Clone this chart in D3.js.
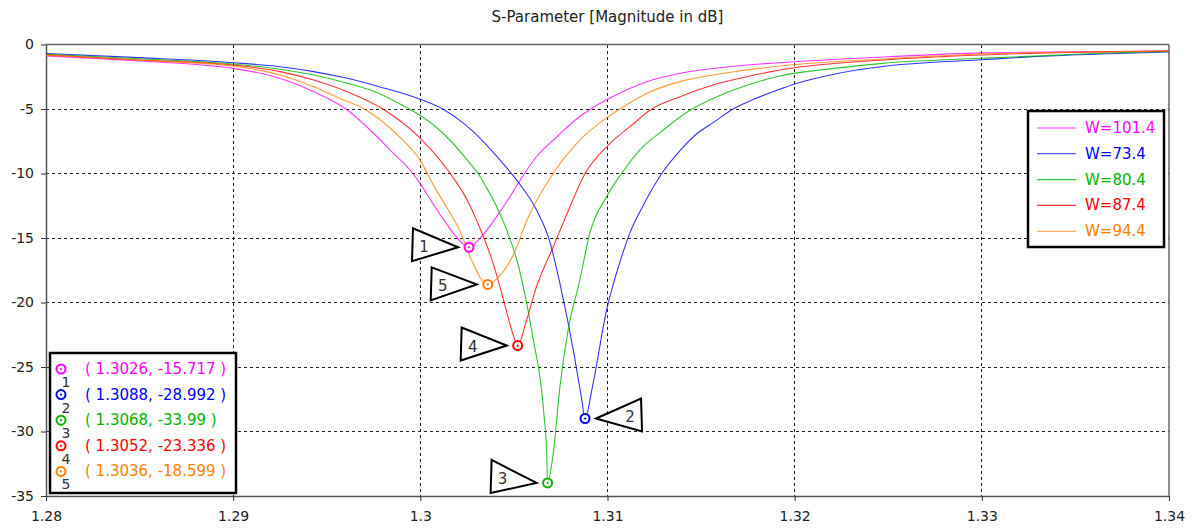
<!DOCTYPE html>
<html>
<head>
<meta charset="utf-8">
<script src="https://cdn.jsdelivr.net/npm/d3@7"></script>
<style>
  body { margin: 0; background: #fff; }
  text { font-family: "DejaVu Sans", Tahoma, sans-serif; }
</style>
</head>
<body>
<div id="graph"></div>
<script>
// series data: [frequency, dB]
var seriesNames = ["W=101.4", "W=73.4", "W=80.4", "W=87.4", "W=94.4"];
var seriesColors = ["#ff00ff", "#0000ff", "#00b400", "#ff0000", "#ff8000"];

var w101 = [[1.28,-0.88],[1.285,-1.28],[1.29,-1.85],[1.2925,-2.62],[1.2943,-3.66],[1.2961,-5.08],[1.2975,-6.88],
  [1.2984,-8.2],[1.2996,-10.0],[1.3,-10.8],[1.3007,-12.4],[1.3014,-13.9],[1.3021,-15.2],[1.3026,-15.717],
  [1.3032,-15.0],[1.304,-13.5],[1.3047,-12.0],[1.3053,-10.6],[1.3062,-8.7],[1.3073,-7.15],[1.3085,-5.6],
  [1.3091,-5.0],[1.31,-4.25],[1.3121,-2.88],[1.3139,-2.23],[1.3165,-1.72],[1.3192,-1.41],[1.325,-0.95],
  [1.33,-0.65],[1.34,-0.5]];
var w73 = [[1.28,-0.7],[1.285,-1.02],[1.29,-1.41],[1.2925,-1.72],[1.2943,-2.1],[1.2961,-2.62],[1.2978,-3.27],
  [1.3,-4.25],[1.3012,-5.0],[1.3023,-6.1],[1.3032,-7.27],[1.3041,-8.7],[1.3053,-10.8],[1.3062,-12.8],
  [1.3069,-15.2],[1.3075,-18.8],[1.3082,-23.9],[1.3086,-27.3],[1.3088,-28.992],[1.3092,-26.5],
  [1.30995,-20.6],[1.3107,-16.7],[1.3112,-14.6],[1.3119,-12.5],[1.3129,-10.0],[1.3139,-8.18],[1.3148,-6.88],
  [1.3157,-6.0],[1.3166,-5.1],[1.3178,-4.25],[1.3192,-3.47],[1.32,-3.06],[1.3221,-2.3],[1.3247,-1.7],
  [1.3274,-1.38],[1.33,-1.18],[1.3327,-0.94],[1.3363,-0.74],[1.34,-0.58]];
var w80 = [[1.28,-0.75],[1.285,-1.1],[1.29,-1.51],[1.2925,-1.92],[1.2943,-2.36],[1.2961,-3.0],[1.2978,-3.79],
  [1.2994,-5.0],[1.3,-5.5],[1.3014,-7.15],[1.3025,-8.95],[1.3032,-10.25],[1.3035,-11.0],[1.3044,-13.6],
  [1.3053,-17.5],[1.306,-22.6],[1.3066,-28.6],[1.30675,-31.7],[1.3068,-33.99],[1.3071,-31.7],[1.30746,-26.5],
  [1.3079,-22.1],[1.3085,-18.4],[1.30906,-14.6],[1.30995,-11.8],[1.31075,-10.0],[1.31172,-8.18],
  [1.31298,-6.63],[1.3144,-5.1],[1.316,-3.95],[1.3178,-3.0],[1.3192,-2.44],[1.3221,-1.85],[1.3247,-1.46],
  [1.33,-1.07],[1.3363,-0.68],[1.34,-0.53]];
var w87 = [[1.28,-0.8],[1.285,-1.2],[1.29,-1.59],[1.2925,-2.1],[1.2943,-2.75],[1.2961,-3.66],[1.298,-5.0],
  [1.3,-7.27],[1.3016,-10.0],[1.3025,-12.05],[1.303,-13.6],[1.3039,-17.0],[1.3045,-20.1],[1.30496,-22.5],
  [1.3052,-23.336],[1.30567,-21.4],[1.3062,-18.8],[1.3071,-15.7],[1.3079,-12.9],[1.3088,-10.0],
  [1.31004,-7.8],[1.3112,-6.37],[1.31236,-5.0],[1.31387,-4.05],[1.31565,-3.14],[1.31743,-2.5],
  [1.31921,-1.98],[1.3247,-1.2],[1.33,-0.81],[1.34,-0.5]];
var w94 = [[1.28,-0.82],[1.285,-1.22],[1.29,-1.67],[1.2925,-2.36],[1.2943,-3.27],[1.2959,-4.3],[1.297,-5.0],
  [1.2987,-6.9],[1.3,-9.0],[1.3007,-10.9],[1.3014,-12.6],[1.3021,-14.4],[1.3027,-16.6],[1.3036,-18.599],
  [1.3042,-18.0],[1.305,-16.2],[1.3057,-13.6],[1.3071,-10.0],[1.30853,-7.4],[1.31004,-5.6],[1.31066,-5.0],
  [1.31209,-3.79],[1.31387,-2.88],[1.31565,-2.36],[1.31921,-1.67],[1.325,-1.1],[1.33,-0.74],[1.34,-0.5]];
var seriesData = [w101, w73, w80, w87, w94];

// markers: id, series index, frequency, dB
var markerIds = [1, 2, 3, 4, 5];
var markerSeries = [0, 1, 2, 3, 4];
var markerX = [1.3026, 1.3088, 1.3068, 1.3052, 1.3036];
var markerY = [-15.717, -28.992, -33.99, -23.336, -18.599];
var markerXText = ["1.3026", "1.3088", "1.3068", "1.3052", "1.3036"];
var markerYText = ["-15.717", "-28.992", "-33.99", "-23.336", "-18.599"];

var xTicks = [1.28, 1.29, 1.3, 1.31, 1.32, 1.33, 1.34];
var yTicks = [0, -5, -10, -15, -20, -25, -30, -35];
var title = "S-Parameter [Magnitude in dB]";

// label placement for the triangle flags (side: -1 left, 1 right; dy shift)
var flagSide = [-1, 1, -1, -1, -1];
var flagDy = [-1, -2, -5, 0, 1];

var W = 1192, H = 529;
var margin = {top: 44.5, right: 23, bottom: 33, left: 46};
var width = W - margin.left - margin.right,
    height = H - margin.top - margin.bottom;

var svg = d3.select("#graph").append("svg")
  .attr("width", W).attr("height", H)
  .style("background", "#fff");

svg.append("text")
  .attr("x", margin.left + width / 2).attr("y", 22)
  .attr("text-anchor", "middle")
  .style("font-size", "15px").attr("fill", "#222")
  .text(title);

var g = svg.append("g").attr("transform", "translate(" + margin.left + "," + margin.top + ")");

var x = d3.scaleLinear().domain([1.28, 1.34]).range([0, width]);
var y = d3.scaleLinear().domain([-35, 0]).range([height, 0]);

// grid
g.append("g").selectAll("line")
  .data(xTicks.slice(1, -1)).enter().append("line")
  .attr("x1", d => x(d)).attr("x2", d => x(d))
  .attr("y1", 0).attr("y2", height)
  .attr("stroke", "#222").attr("stroke-dasharray", "3,3").attr("shape-rendering", "crispEdges");
g.append("g").selectAll("line")
  .data(yTicks.slice(1, -1)).enter().append("line")
  .attr("x1", 0).attr("x2", width)
  .attr("y1", d => y(d)).attr("y2", d => y(d))
  .attr("stroke", "#222").attr("stroke-dasharray", "3,3").attr("shape-rendering", "crispEdges");

// frame
g.append("line").attr("x1", 0).attr("x2", width).attr("y1", 0).attr("y2", 0)
  .attr("stroke", "#666").attr("stroke-width", 1.5);
g.append("line").attr("x1", width).attr("x2", width).attr("y1", 0).attr("y2", height)
  .attr("stroke", "#666").attr("stroke-width", 1.5);

// axes
var xAxis = g.append("g").attr("transform", "translate(0," + height + ")")
  .call(d3.axisBottom(x).tickValues(xTicks).tickFormat(d => String(d)).tickSize(5).tickSizeOuter(0).tickPadding(10));
var yAxis = g.append("g")
  .call(d3.axisLeft(y).tickValues(yTicks).tickFormat(d => String(d)).tickSize(5).tickSizeOuter(0).tickPadding(7));
[xAxis, yAxis].forEach(function(a) {
  a.select(".domain").attr("stroke", "#555").attr("stroke-width", 1.5);
  a.selectAll(".tick line").attr("stroke", "#333");
  a.selectAll(".tick text").style("font-size", "14px").style("font-family", "DejaVu Sans, Tahoma, sans-serif").attr("fill", "#222");
});

// curves
var line = d3.line().x(d => x(d[0])).y(d => y(d[1])).curve(d3.curveMonotoneX);
g.append("g").selectAll("path")
  .data(seriesData).enter().append("path")
  .attr("d", line)
  .attr("fill", "none")
  .attr("stroke", (d, i) => seriesColors[i])
  .attr("stroke-opacity", 0.8)
  .attr("stroke-width", 1.1);

// triangle flags
var flags = g.append("g");
markerIds.forEach(function(id, i) {
  var px = x(markerX[i]), py = y(markerY[i]) + flagDy[i], s = flagSide[i];
  var pts = [[px + s * 11, y(markerY[i])], [px + s * 56, py - 18], [px + s * 57, py + 15]];
  flags.append("polygon")
    .attr("points", pts.map(p => p.join(",")).join(" "))
    .attr("fill", "#fff").attr("stroke", "#000").attr("stroke-width", 2);
  flags.append("text")
    .attr("x", px + s * 45).attr("y", py + 1)
    .attr("text-anchor", "middle").attr("dominant-baseline", "central")
    .style("font-size", "15px").attr("fill", "#333")
    .text(id);
});

// marker symbols
function drawMarker(sel, cx, cy, color) {
  sel.append("circle").attr("cx", cx).attr("cy", cy).attr("r", 4.5)
    .attr("fill", "#fff").attr("stroke", color).attr("stroke-width", 2);
  sel.append("circle").attr("cx", cx).attr("cy", cy).attr("r", 1.1).attr("fill", color);
}
var mk = g.append("g");
markerIds.forEach(function(id, i) {
  drawMarker(mk, x(markerX[i]), y(markerY[i]), seriesColors[markerSeries[i]]);
});

// marker value box (bottom left)
var mb = svg.append("g").attr("transform", "translate(50,353)");
mb.append("rect").attr("width", 186).attr("height", 140)
  .attr("fill", "#fff").attr("stroke", "#000").attr("stroke-width", 2.5);
markerIds.forEach(function(id, i) {
  var ry = 16 + i * 25.6, c = seriesColors[markerSeries[i]];
  drawMarker(mb, 11, ry, c);
  mb.append("text").attr("x", 16).attr("y", ry + 18).attr("text-anchor", "middle")
    .style("font-size", "14px").attr("fill", "#333").text(id);
  mb.append("text").attr("x", 35).attr("y", ry).attr("dominant-baseline", "central")
    .style("font-size", "15px").attr("fill", c)
    .text("( " + markerXText[i] + ", " + markerYText[i] + " )");
});

// series legend (right)
var lg = svg.append("g").attr("transform", "translate(1028,111)");
lg.append("rect").attr("width", 136).attr("height", 136)
  .attr("fill", "#fff").attr("stroke", "#000").attr("stroke-width", 2.5);
seriesNames.forEach(function(name, i) {
  var ry = 17 + i * 25.8;
  lg.append("line").attr("x1", 9).attr("x2", 48).attr("y1", ry).attr("y2", ry)
    .attr("stroke", seriesColors[i]).attr("stroke-opacity", 0.8).attr("stroke-width", 1.1);
  lg.append("text").attr("x", 57).attr("y", ry).attr("dominant-baseline", "central")
    .style("font-size", "15px").attr("fill", seriesColors[i]).text(name);
});
</script>
</body>
</html>
